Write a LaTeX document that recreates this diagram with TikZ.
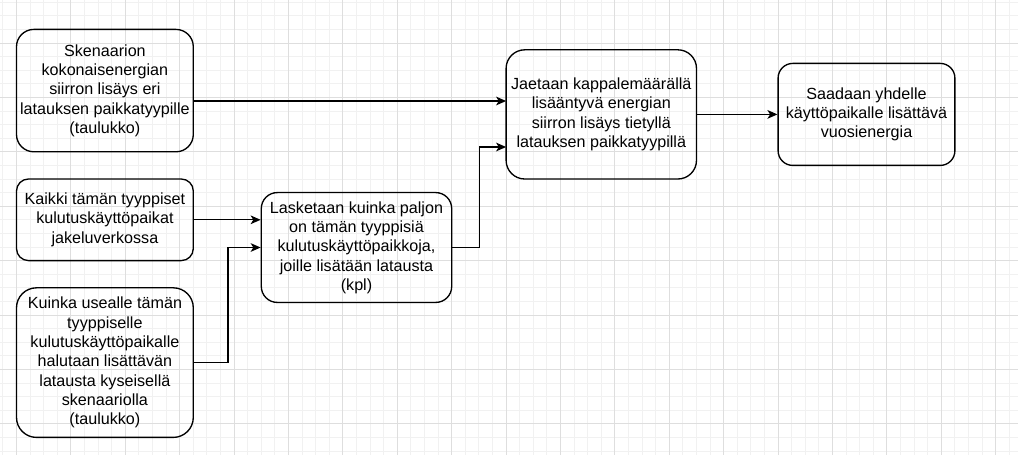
\documentclass[tikz,border=0pt]{standalone}
\usepackage{fontspec}
\setmainfont{Liberation Sans}
\usetikzlibrary{arrows.meta}

\definecolor{gridminor}{RGB}{241,241,241}
\definecolor{gridmajor}{RGB}{222,222,222}

\begin{document}
\begin{tikzpicture}[x = 0.75pt, y = -0.75pt,
    box/.style = {draw, line width = 1pt, align = center, inner sep = 0pt,
        font = \fontsize{12.1}{14.5}\selectfont},
    flow/.style = {-{Stealth[length = 7.5pt, width = 6.5pt, inset = 2pt]}, line width = 1pt}]
    \useasboundingbox (0, 0) rectangle (1018, 455);
    \fill[white] (0, 0) rectangle (1018, 455);

    \foreach \i in {0,...,74}
        \draw[gridminor, line width = 0.75pt] (2.9 + 13.6*\i, 0) -- (2.9 + 13.6*\i, 455);
    \foreach \i in {0,...,33}
        \draw[gridminor, line width = 0.75pt] (0, 2.2 + 13.6*\i) -- (1018, 2.2 + 13.6*\i);
    \foreach \i in {0,...,18}
        \draw[gridmajor, line width = 0.75pt] (16.5 + 54.4*\i, 0) -- (16.5 + 54.4*\i, 455);
    \foreach \i in {0,...,7}
        \draw[gridmajor, line width = 0.75pt] (0, 43 + 54.4*\i) -- (1018, 43 + 54.4*\i);

    \node[box, rounded corners = 13pt, minimum width = 132.6pt, minimum height = 91.8pt]
        (skenaario) at (104.9, 90.6)
        {Skenaarion\\ kokonaisenergian\\ siirron lisäys eri\\ latauksen paikkatyypille\\ (taulukko)};
    \node[box, rounded corners = 9pt, minimum width = 132.6pt, minimum height = 61.2pt]
        (kaikki) at (104.9, 219.8)
        {Kaikki tämän tyyppiset\\ kulutuskäyttöpaikat\\ jakeluverkossa};
    \node[box, rounded corners = 15pt, minimum width = 132.6pt, minimum height = 112.2pt]
        (kuinka) at (104.9, 362.6)
        {Kuinka usealle tämän\\ tyyppiselle\\ kulutuskäyttöpaikalle\\ halutaan lisättävän\\ latausta kyseisellä\\ skenaariolla\\ (taulukko)};
    \node[box, rounded corners = 12pt, minimum width = 142.8pt, minimum height = 82.4pt]
        (lasketaan) at (356.5, 247.5)
        {Lasketaan kuinka paljon\\ on tämän tyyppisiä\\ kulutuskäyttöpaikkoja,\\ joille lisätään latausta\\ (kpl)};
    \node[box, rounded corners = 14pt, minimum width = 142.8pt, minimum height = 96.9pt]
        (jaetaan) at (601.3, 114.4)
        {Jaetaan kappalemäärällä\\ lisääntyvä energian\\ siirron lisäys tietyllä\\ latauksen paikkatyypillä};
    \node[box, rounded corners = 11pt, minimum width = 132.6pt, minimum height = 76.5pt]
        (saadaan) at (866.5, 114.4)
        {Saadaan yhdelle\\ käyttöpaikalle lisättävä\\ vuosienergia};

    \coordinate (jaetaanA) at (506.1, 101);
    \coordinate (jaetaanB) at (506.1, 147);

    \draw[flow] (skenaario.east |- jaetaanA) -- (jaetaanA);
    \draw[flow] (kaikki.east) -- (kaikki.east -| lasketaan.west);
    \draw[flow] (kuinka.east) -- ++(34, 0) |- (lasketaan.west);
    \draw[flow] (lasketaan.east) -- ++(27, 0) |- (jaetaanB);
    \draw[flow] (jaetaan.east) -- (saadaan.west);
\end{tikzpicture}
\end{document}
